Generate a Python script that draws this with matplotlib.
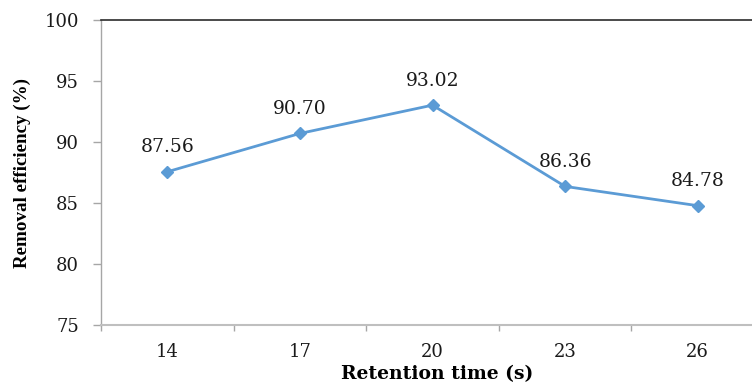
import matplotlib
matplotlib.use("Agg")
import matplotlib.pyplot as plt

categories = ["14", "17", "20", "23", "26"]
values = [87.56, 90.70, 93.02, 86.36, 84.78]
labels = ["87.56", "90.70", "93.02", "86.36", "84.78"]
yticks = [75, 80, 85, 90, 95, 100]

wide = ['DejaVu Serif']
plt.rcParams['font.family'] = wide

W, H = 752, 383
fig = plt.figure(figsize=(W/100, H/100), dpi=100)
left, right = 101, 764
top, bottom = 20, 325
ax = fig.add_axes([left/W, 1 - bottom/H, (right-left)/W, (bottom-top)/H])

x = list(range(len(categories)))
ax.plot(x, values, color='#5B9BD5', lw=2.0, marker='D', markersize=6.5, zorder=3,
        clip_on=False)
for xi, v, lab in zip(x, values, labels):
    ax.annotate(lab, (xi, v), xytext=(0, 17.5), textcoords='offset points',
                ha='center', va='center', fontsize=13.5, color='#1a1a1a')

ax.set_xlim(-0.5, 4.5)
ax.set_ylim(75, 100)
ax.set_yticks(yticks)
ax.set_yticklabels([str(t) for t in yticks])
ax.set_xticks(x)
ax.set_xticklabels(categories)
ax.set_xticks([i - 0.5 for i in range(len(categories) + 1)], minor=True)
ax.tick_params(axis='x', which='major', length=0, pad=13, labelsize=13, colors='#1a1a1a')
ax.tick_params(axis='x', which='minor', length=4, color='#A6A6A6', width=1)
ax.tick_params(axis='y', which='major', length=5.8, color='#A6A6A6', width=1,
               labelsize=13, labelcolor='#1a1a1a', pad=10)

ax.spines['right'].set_visible(False)
ax.spines['top'].set_color('#2b2b2b')
ax.spines['top'].set_linewidth(1.2)
ax.spines['left'].set_color('#A6A6A6')
ax.spines['bottom'].set_color('#BFBFBF')
ax.spines['left'].set_linewidth(1)
ax.spines['bottom'].set_linewidth(1.5)

fig.text(437/W, 1 - 374/H, "Retention time (s)", ha='center', va='center',
         fontsize=13.5, fontweight='bold')
fig.text(22/W, 1 - 173/H, "Removal efficiency (%)", ha='center', va='center',
         rotation=90, fontsize=13.7, fontweight='bold',
         family=['Liberation Serif', 'DejaVu Serif'])

fig.savefig("out.png", dpi=100)
